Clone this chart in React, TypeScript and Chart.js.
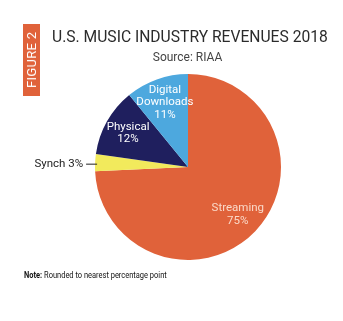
import React, { useEffect, useRef } from "react";
import { Chart, registerables } from "chart.js";

Chart.register(...registerables);

const categories = ["Streaming", "Synch", "Physical", "Digital Downloads"];
const values = [75, 3, 12, 11];
const labelLines = [["Streaming", "75%"], ["Synch 3%"], ["Physical", "12%"], ["Digital", "Downloads", "11%"]];
const colors = ["#E0623A", "#F2EA5C", "#1F1F5E", "#4DA8DE"];
const labelColors = ["#FAD9C8", "#222222", "#FFFFFF", "#FFFFFF"];
const titleText = "U.S. MUSIC INDUSTRY REVENUES 2018";
const sourceText = "Source: RIAA";
const figureText = "FIGURE 2";
const noteBold = "Note:";
const noteText = " Rounded to nearest percentage point";

const FONT = "Roboto, 'DejaVu Sans', sans-serif";

const labelPlugin = {
  id: "sliceLabels",
  afterDatasetsDraw(chart: any) {
    const ctx = chart.ctx;
    const meta = chart.getDatasetMeta(0);
    ctx.save();
    ctx.font = `11.5px ${FONT}`;
    ctx.textBaseline = "middle";
    meta.data.forEach((arc: any, i: number) => {
      const p = arc.getProps(["x", "y", "startAngle", "endAngle", "outerRadius"], true);
      const mid = (p.startAngle + p.endAngle) / 2;
      const lines = labelLines[i];
      const lh = 12.5;
      ctx.fillStyle = labelColors[i];
      if (i === 1) {
        const ly = p.y + Math.sin(mid) * p.outerRadius;
        const lx = p.x + Math.cos(mid) * p.outerRadius;
        ctx.strokeStyle = "#222222";
        ctx.lineWidth = 1;
        ctx.beginPath();
        ctx.moveTo(lx - 9, ly + 1.5);
        ctx.lineTo(lx + 2, ly + 1.5);
        ctx.stroke();
        ctx.textAlign = "right";
        ctx.fillText(lines[0], lx - 12, ly + 1.5);
      } else {
        const r = p.outerRadius * 0.74;
        const cx = p.x + Math.cos(mid) * r;
        const cy = p.y + Math.sin(mid) * r;
        ctx.textAlign = "center";
        const start = cy - ((lines.length - 1) * lh) / 2;
        lines.forEach((t, k) => ctx.fillText(t, cx, start + k * lh));
      }
    });
    ctx.restore();
  },
};

export default function App() {
  const ref = useRef<HTMLCanvasElement>(null);
  useEffect(() => {
    document.body.style.margin = "0";
    const chart = new Chart(ref.current!, {
      type: "pie",
      data: {
        labels: categories,
        datasets: [
          {
            data: values,
            backgroundColor: colors,
            borderWidth: 0,
          },
        ],
      },
      options: {
        animation: false,
        responsive: false,
        layout: { padding: { left: 95, right: 62, top: 74, bottom: 61 } },
        plugins: { legend: { display: false }, tooltip: { enabled: false } },
      },
      plugins: [labelPlugin],
    });
    return () => chart.destroy();
  }, []);

  return (
    <div style={{ position: "absolute", left: 0, top: 0, width: 343, height: 321, background: "#fff", overflow: "hidden", fontFamily: FONT }}>
      <canvas ref={ref} width={343} height={321} style={{ position: "absolute", left: 0, top: 0 }} />
      <div
        style={{
          position: "absolute",
          left: 23,
          top: 24,
          width: 17,
          height: 72,
          background: "#E0623A",
          color: "#fff",
          writingMode: "vertical-rl",
          transform: "rotate(180deg)",
          display: "flex",
          alignItems: "center",
          justifyContent: "center",
          fontSize: 13,
          lineHeight: "17px",
          letterSpacing: 0.3,
        }}
      >
        {figureText}
      </div>
      <div
        style={{
          position: "absolute",
          left: 52,
          top: 25,
          fontSize: 17,
          color: "#2b2b2b",
          whiteSpace: "nowrap",
          lineHeight: "22px",
          transform: "scaleX(0.92)",
          transformOrigin: "left center",
        }}
      >
        {titleText}
      </div>
      <div style={{ position: "absolute", left: 0, width: 375, top: 49, textAlign: "center", fontSize: 12, color: "#444", lineHeight: "16px" }}>
        {sourceText}
      </div>
      <div
        style={{
          position: "absolute",
          left: 24,
          top: 269,
          fontSize: 8.5,
          color: "#111",
          whiteSpace: "nowrap",
          lineHeight: "12px",
          transform: "scaleX(0.88)",
          transformOrigin: "left center",
        }}
      >
        <b>{noteBold}</b>
        {noteText}
      </div>
    </div>
  );
}
